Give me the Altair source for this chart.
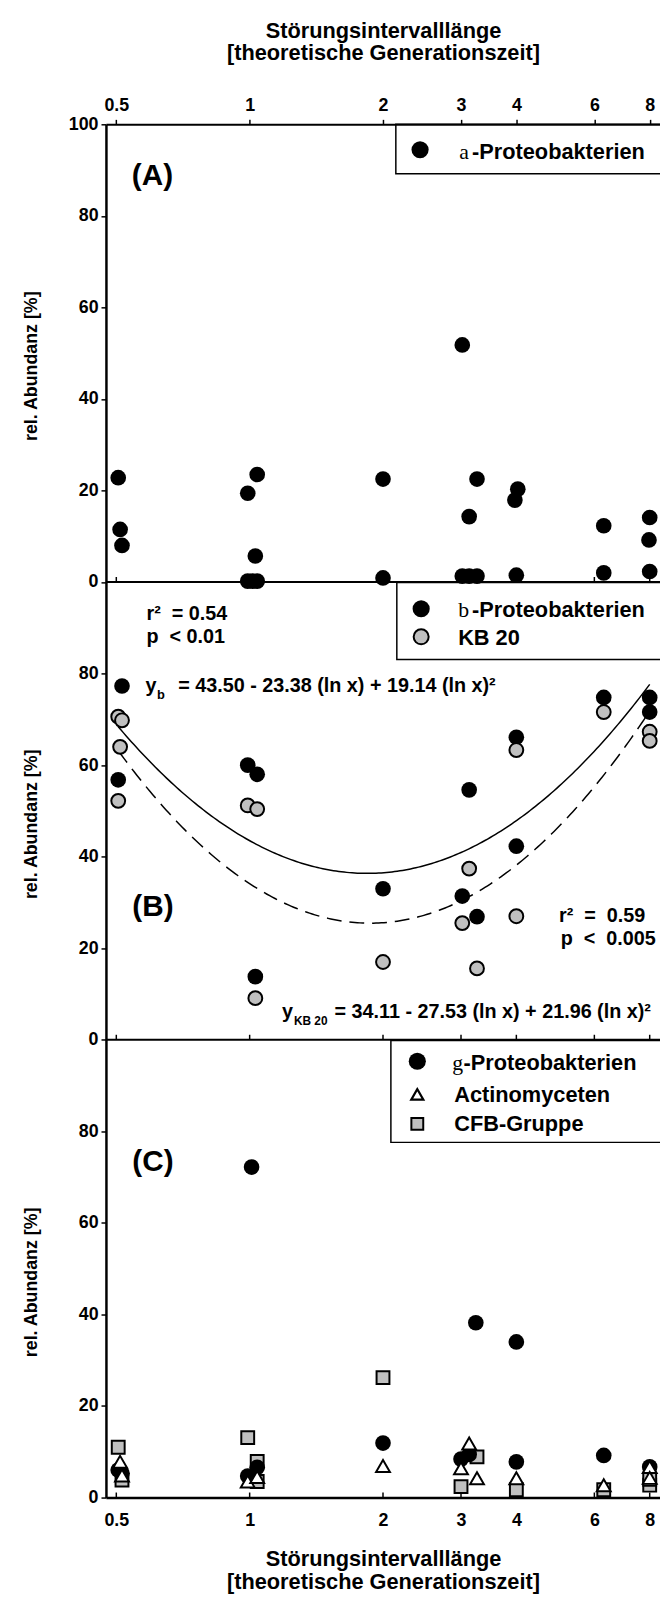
import altair as alt
import pandas as pd

# ---------------- data ----------------
x_ticks = [0.5, 1, 2, 3, 4, 6, 8]
y_ticks = list(range(0, 301, 20))
panel_offset = {"A": 200, "B": 100, "C": 0}

# (A) alpha-Proteobakterien
alpha_x = [0.505, 0.51, 0.515, 0.99, 1.04, 1.03, 0.99, 1.015, 1.04, 2.0, 2.0,
           3.02, 3.13, 3.26, 3.02, 3.13, 3.26, 4.03, 3.97, 4.0, 6.3, 6.3, 8.0, 7.97, 8.0]
alpha_y = [22.8, 11.5, 8.0, 19.4, 23.5, 5.7, 0.2, 0.2, 0.2, 22.5, 0.9,
           51.8, 14.3, 22.5, 1.3, 1.3, 1.3, 20.3, 17.9, 1.5, 12.3, 2.0, 14.1, 9.2, 2.3]

# (B) beta-Proteobakterien and KB 20
beta_x = [0.515, 0.505, 0.99, 1.04, 1.03, 2.0, 3.13, 3.02, 3.26, 4.0, 4.0, 6.3, 8.0, 8.0]
beta_y = [77.3, 56.8, 60.0, 58.0, 13.8, 33.0, 54.6, 31.4, 26.9, 66.1, 42.3, 74.8, 74.8, 71.6]
kb20_x = [0.505, 0.515, 0.51, 0.505, 0.99, 1.04, 1.03, 2.0, 3.13, 3.02, 3.26, 4.0, 4.0, 6.3, 8.0, 8.0]
kb20_y = [70.6, 69.8, 64.0, 52.2, 51.2, 50.4, 9.1, 17.0, 37.4, 25.5, 15.6, 27.0, 63.3, 71.6, 67.3, 65.3]

# fitted curves y = c0 + c1 ln x + c2 (ln x)^2
fit_beta = [43.50, -23.38, 19.14]
fit_kb20 = [34.11, -27.53, 21.96]
fit_x_range = [0.505, 8.0]

# (C) gamma-Proteobakterien, Actinomyceten, CFB-Gruppe
gamma_x = [0.505, 0.515, 0.99, 1.04, 1.01, 2.0, 3.0, 3.13, 3.24, 4.0, 4.0, 6.3, 8.0]
gamma_y = [6.0, 5.3, 4.7, 6.6, 72.2, 11.9, 8.4, 9.4, 38.2, 7.8, 34.0, 9.2, 6.7]
actino_x = [0.51, 0.515, 0.99, 1.04, 2.0, 3.13, 3.0, 3.26, 4.0, 6.3, 8.0, 8.0]
actino_y = [7.8, 4.8, 3.5, 4.5, 6.9, 11.8, 6.4, 4.2, 4.2, 2.7, 6.7, 4.3]
cfb_x = [0.505, 0.515, 0.99, 1.04, 1.04, 2.0, 3.0, 3.26, 4.0, 6.3, 8.0, 8.0]
cfb_y = [11.0, 3.8, 13.1, 7.9, 3.5, 26.2, 2.4, 8.9, 1.7, 1.7, 2.7, 4.0]

# ---------------- styling / layout ----------------
SANS = "Liberation Sans"
SERIF = "Liberation Serif"
GRAY = "#c0c0c0"
NB = "\u00a0"
W, H = 560, 1388
XDOM = [0.4738, 8.44]

xscale = alt.Scale(type="log", domain=XDOM, nice=False)
yscale = alt.Scale(domain=[0, 300], nice=False, zero=False)


def xenc(axis=None):
    return alt.X("x:Q", scale=xscale, axis=axis)


yaxis = alt.Axis(values=y_ticks,
                 labelExpr="datum.value == 300 ? '100' : '' + (datum.value % 100)",
                 title=None, grid=False, domainColor="black", domainWidth=2.5,
                 tickColor="black", tickWidth=1.5, tickSize=5,
                 labelFont=SANS, labelFontSize=18, labelFontWeight="bold",
                 labelColor="black", labelPadding=3)
Y = alt.Y("yy:Q", scale=yscale, axis=yaxis)

xtitle = ["Störungsintervalllänge", "[theoretische Generationszeit]"]
common_x = dict(values=x_ticks, format="~g", grid=False, domainColor="black",
                labelFont=SANS, labelFontSize=18, labelFontWeight="bold",
                labelColor="black", labelFlush=False, labelOverlap=False,
                title=xtitle, titleFont=SANS, titleFontSize=22, titleFontWeight="bold",
                titleColor="black", titleLineHeight=23, titleBaseline="alphabetic")
top_axis = alt.Axis(orient="top", domainWidth=2, tickColor="black", tickWidth=1.5,
                    tickSize=5, labelPadding=5, titleY=-88, **common_x)
bottom_axis = alt.Axis(orient="bottom", domainWidth=2.5, ticks=False, tickSize=0,
                       labelPadding=14, titleY=69, **common_x)


def pts_df(xs, ys, panel):
    d = pd.DataFrame({"x": xs, "y": ys})
    d["yy"] = d["y"] + panel_offset[panel]
    return d


def dummy():
    return pd.DataFrame({"k": [0]})


def txt(s, x, y, size=20, font=SANS, weight="bold", align="left",
        baseline="alphabetic", angle=0):
    return alt.Chart(pd.DataFrame({"t": [s]})).mark_text(
        align=align, baseline=baseline, fontSize=size, font=font,
        fontWeight=weight, angle=angle, color="black"
    ).encode(text="t:N", x=alt.value(x), y=alt.value(y))


def marker(x, y, shape, size, fill, sw=0):
    return alt.Chart(dummy()).mark_point(
        shape=shape, size=size, filled=True, fill=fill, stroke="black",
        strokeWidth=sw, opacity=1, fillOpacity=1
    ).encode(x=alt.value(x), y=alt.value(y))


def box(x1, y1, x2, y2):
    return alt.Chart(dummy()).mark_rect(
        fill="white", fillOpacity=0, stroke="black", strokeWidth=1.5
    ).encode(x=alt.value(x1), x2=alt.value(x2), y=alt.value(y1), y2=alt.value(y2))


def fit_curve(coef, dash=None):
    c0, c1, c2 = coef
    lo, hi = fit_x_range
    ch = alt.Chart(alt.sequence(0, 1.0001, 0.005, as_="t")).transform_calculate(
        lx=f"log({lo}) + datum.t * (log({hi}) - log({lo}))"
    ).transform_calculate(
        x="exp(datum.lx)",
        yy=f"{c0} + ({c1}) * datum.lx + ({c2}) * datum.lx * datum.lx + {panel_offset['B']}"
    )
    if dash:
        mk = ch.mark_line(color="black", strokeWidth=1.5, strokeDash=dash)
    else:
        mk = ch.mark_line(color="black", strokeWidth=1.5)
    return mk.encode(x=xenc(), y=Y)


layers = []

# legend boxes
layers += [box(293, 0, W + 8, 50), box(294, 463, W + 8, 541), box(288, 926, W + 8, 1029)]

# panel boundaries and inward ticks
bound_df = pd.DataFrame({"yy": [panel_offset["B"], panel_offset["A"]]})
layers.append(alt.Chart(bound_df).mark_rule(color="black", strokeWidth=2).encode(y=Y))
tick_df = pd.DataFrame([(t, b) for t in x_ticks for b in panel_offset.values()],
                       columns=["x", "yy"])
layers.append(alt.Chart(tick_df).transform_calculate(yy2="datum.yy + 1.1")
              .mark_rule(color="black", strokeWidth=1.5)
              .encode(x=xenc(), y=Y, y2="yy2:Q"))

# fitted curves
layers.append(fit_curve(fit_beta))
layers.append(fit_curve(fit_kb20, dash=[15, 8]))

# data points
layers.append(alt.Chart(pts_df(alpha_x, alpha_y, "A")).mark_point(
    shape="circle", size=250, filled=True, fill="black", opacity=1, strokeWidth=0)
    .encode(x=xenc(top_axis), y=Y))
layers.append(alt.Chart(pts_df(beta_x, beta_y, "B")).mark_point(
    shape="circle", size=250, filled=True, fill="black", opacity=1, strokeWidth=0)
    .encode(x=xenc(), y=Y))
layers.append(alt.Chart(pts_df(kb20_x, kb20_y, "B")).mark_point(
    shape="circle", size=196, filled=True, fill=GRAY, stroke="black", strokeWidth=2, opacity=1)
    .encode(x=xenc(), y=Y))
layers.append(alt.Chart(pts_df(cfb_x, cfb_y, "C")).mark_point(
    shape="square", size=169, filled=True, fill=GRAY, stroke="black", strokeWidth=2, opacity=1)
    .encode(x=xenc(), y=Y))
layers.append(alt.Chart(pts_df(gamma_x, gamma_y, "C")).mark_point(
    shape="circle", size=250, filled=True, fill="black", opacity=1, strokeWidth=0)
    .encode(x=xenc(bottom_axis), y=Y))
layers.append(alt.Chart(pts_df(actino_x, actino_y, "C")).mark_point(
    shape="triangle-up", size=196, filled=True, fill="white", stroke="black", strokeWidth=2, opacity=1)
    .encode(x=xenc(), y=Y))

# legend markers
layers += [
    marker(317.5, 25.7, "circle", 300, "black"),
    marker(318.6, 489.7, "circle", 300, "black"),
    marker(318.6, 518, "circle", 230, GRAY, 2),
    marker(314.7, 947, "circle", 300, "black"),
    marker(314.7, 980.5, "triangle-up", 150, "white", 2.2),
    marker(314.7, 1010.3, "square", 144, GRAY, 2),
]

# legend texts
LF = 22
layers += [
    txt("a", 357, 34.7, LF, SERIF, "normal"),
    txt("-Proteobakterien", 370, 34.7, LF),
    txt("b", 356, 498, LF, SERIF, "normal"),
    txt("-Proteobakterien", 370, 498, LF),
    txt("KB 20", 356, 526.3, LF),
    txt("g", 350, 956.3, LF, SERIF, "normal"),
    txt("-Proteobakterien", 361.5, 956.3, LF),
    txt("Actinomyceten", 352, 988, LF),
    txt("CFB-Gruppe", 352, 1018, LF),
]

# panel labels and statistics
layers += [
    txt("(A)", 47, 61, 30, align="center"),
    txt("(B)", 47.5, 800, 30, align="center"),
    txt("(C)", 47.5, 1058, 30, align="center"),
    txt("r²" + NB + NB + "=" + NB + "0.54", 41, 501, 20),
    txt("p" + NB + NB + "<" + NB + "0.01", 41, 524.5, 20),
    txt("y", 40, 574, 20),
    txt("b", 51.5, 581, 13),
    txt("= 43.50 - 23.38 (ln x) + 19.14 (ln x)²", 73, 574, 20),
    txt("r²" + NB + NB + "=" + NB + NB + "0.59", 458, 806, 20),
    txt("p" + NB + NB + "<" + NB + NB + "0.005", 459.7, 829.6, 20),
    txt("y", 178, 903, 20),
    txt("KB 20", 190, 910, 12),
    txt("= 34.11 - 27.53 (ln x) + 21.96 (ln x)²", 231, 903, 20),
]

# y-axis titles for the three panels
for yc in [231.5 + 13, 694.5 + 13, 1157.5 + 13]:
    layers.append(txt("rel. Abundanz [%]", -75, yc, 18, angle=270,
                      align="center", baseline="middle"))

chart = alt.layer(*layers).resolve_axis(x="independent").properties(
    width=W, height=H,
    padding={"left": 99, "top": 109, "right": 0, "bottom": 96},
    autosize=alt.AutoSizeParams(type="none"),
).configure_view(stroke=None)

chart.save("out.html", embed_options={"renderer": "svg", "actions": False})
